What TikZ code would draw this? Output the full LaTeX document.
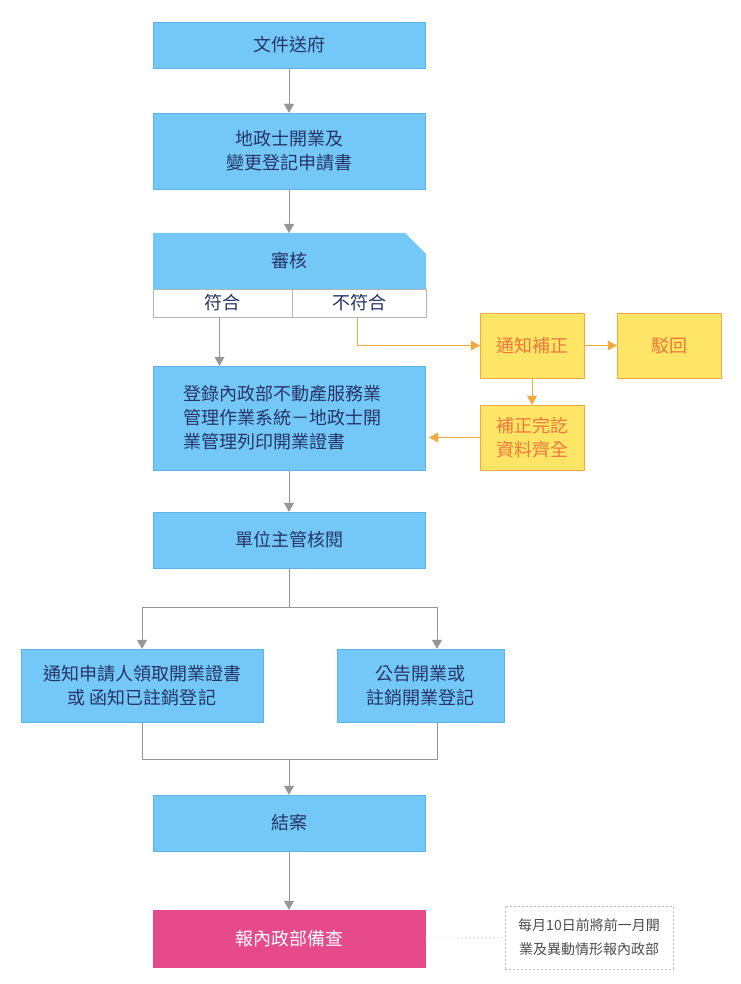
\documentclass[tikz,border=0pt]{standalone}
\usepackage{fontspec}
\setmainfont{Noto Sans CJK TC}
\usetikzlibrary{positioning, calc, arrows.meta}

\definecolor{boxblue}{RGB}{115,200,248}
\definecolor{lineblue}{RGB}{95,178,232}
\definecolor{txtblue}{RGB}{38,52,102}
\definecolor{boxyel}{RGB}{255,229,102}
\definecolor{lineorg}{RGB}{242,170,62}
\definecolor{txtorg}{RGB}{240,118,62}
\definecolor{boxpink}{RGB}{230,74,138}
\definecolor{linegray}{RGB}{150,150,150}

\begin{document}
\begin{tikzpicture}[x=1pt, y=-1pt,
  every node/.style={font=\fontsize{18}{24}\selectfont, align=center, inner sep=0pt},
  bluebox/.style={rectangle, draw=lineblue, fill=boxblue, text=txtblue, minimum width=272pt},
  yelbox/.style={rectangle, draw=lineorg, fill=boxyel, text=txtorg, minimum width=104pt, minimum height=65pt},
  cellbox/.style={rectangle, draw=linegray!70, fill=white, text=txtblue, minimum height=28pt},
  garrow/.style={draw=linegray, -{Triangle[width=10pt,length=9pt]}},
  gline/.style={draw=linegray},
  oarrow/.style={draw=lineorg, -{Triangle[width=10pt,length=9pt]}}]
  \useasboundingbox (0,0) rectangle (740,984);
  % main column
  \node[bluebox, minimum height=46pt] (send) at (289,45) {文件送府};
  \node[bluebox, minimum height=76pt] (apply) at (289,151) {地政士開業及\\變更登記申請書};
  \fill[boxblue] (153,233) -- (405,233) -- (426,254) -- (426,289) -- (153,289) -- cycle;
  \coordinate (checktop) at (289,233);
  \node[text=txtblue] (check) at (289,261) {審核};
  \node[cellbox, minimum width=139pt] (ok) at (222.5,303) {符合};
  \node[cellbox, minimum width=134pt] (ng) at (359,303) {不符合};
  \node[bluebox, minimum height=104pt, text width=212pt, align=left] (reg) at (289,418)
    {登錄內政部不動產服務業\\管理作業系統－地政士開\\業管理列印開業證書};
  \node[bluebox, minimum height=56pt] (audit) at (289,540) {單位主管核閱};
  \node[bluebox, minimum width=242pt, minimum height=73pt] (notify) at (142,685.5)
    {通知申請人領取開業證書\\或 函知已註銷登記};
  \node[bluebox, minimum width=167pt, minimum height=73pt] (publish) at (420.5,685.5)
    {公告開業或\\註銷開業登記};
  \node[bluebox, minimum height=56pt] (close) at (289,823) {結案};
  \node[bluebox, draw=boxpink, fill=boxpink, text=white, minimum height=57pt] (report) at (289,938.5) {報內政部備查};
  % side branch
  \node[yelbox] (fix) at (532,345.5) {通知補正};
  \node[yelbox] (reject) at (669,345.5) {駁回};
  \node[yelbox] (done) at (532,437.5) {補正完訖\\資料齊全};
  \node[draw=linegray!60, dash pattern=on 2pt off 2pt, text=black!70,
    font=\fontsize{14}{24}\selectfont, minimum width=168pt, minimum height=63pt] (note) at (589,937.5)
    {每月10日前將前一月開\\業及異動情形報內政部};
  % connectors
  \coordinate (split) at (289,607);
  \coordinate (merge) at (289,759);
  \coordinate (pubtop) at ($(publish.north)+(16.5,0)$);
  \coordinate (pubbot) at ($(publish.south)+(16.5,0)$);
  \coordinate (okbot) at ($(ok.south)+(-3,0)$);
  \coordinate (ngbot) at ($(ng.south)+(-2,0)$);
  \draw[garrow] (send) -- (apply);
  \draw[garrow] (apply) -- (checktop);
  \draw[garrow] (okbot) -- (reg.north -| okbot);
  \draw[oarrow] (ngbot) |- (fix.west);
  \draw[oarrow] (fix) -- (reject);
  \draw[oarrow] (fix) -- (done);
  \draw[oarrow, shorten >=4pt] (done) -- (reg.east |- done);
  \draw[garrow] (reg) -- (audit);
  \draw[gline] (audit) -- (split);
  \draw[garrow] (split) -| (notify.north);
  \draw[garrow] (split) -| (pubtop);
  \draw[gline] (notify.south) |- (merge);
  \draw[gline] (pubbot) |- (merge);
  \draw[garrow] (merge) -- (close);
  \draw[garrow] (close) -- (report);
  \draw[draw=linegray!60, dash pattern=on 2pt off 2pt] (report) -- (note);
\end{tikzpicture}
\end{document}
